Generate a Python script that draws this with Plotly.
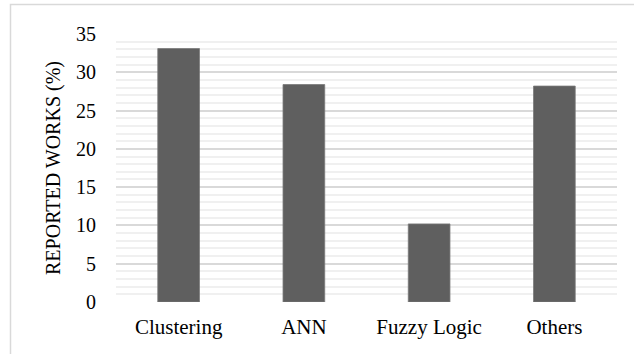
import plotly.graph_objects as go

categories = ["Clustering", "ANN", "Fuzzy Logic", "Others"]
values = [33.1, 28.4, 10.2, 28.2]
y_ticks = [0, 5, 10, 15, 20, 25, 30, 35]

FONT = "Liberation Serif"

fig = go.Figure(go.Bar(
    x=categories, y=values,
    marker=dict(color="#5f5f5f", line=dict(color="#7a7a7a", width=0.8)),
    width=0.333,
))

L, R, T, B = 116, 17, 34, 52
W, H = 634, 354
pw, ph = W - L - R, H - T - B

fig.update_layout(
    width=W, height=H,
    margin=dict(l=L, r=R, t=T, b=B, pad=0),
    paper_bgcolor="white", plot_bgcolor="white",
    font=dict(family=FONT, size=20, color="#000000"),
    showlegend=False,
    xaxis=dict(
        showgrid=False, showline=False, zeroline=False,
        ticks="", tickfont=dict(family=FONT, size=21),
        ticklabelstandoff=10,
    ),
    yaxis=dict(
        range=[0, 35], tickvals=y_ticks,
        showgrid=True, gridcolor="#d9d9d9", gridwidth=1.5,
        minor=dict(dtick=1, showgrid=True, gridcolor="#f0f0f0", gridwidth=1.5),
        zeroline=False, showline=False,
        ticks="outside", ticklen=15, tickcolor="rgba(0,0,0,0)",
        tickfont=dict(family=FONT, size=20),
        title=dict(text="REPORTED WORKS (%)", font=dict(family=FONT, size=20), standoff=10),
    ),
    shapes=[dict(
        type="rect", xref="paper", yref="paper",
        x0=(10.5 - L) / pw, x1=(W + 5 - L) / pw,
        y0=(H - B - (H + 5)) / ph, y1=(H - B - 4.5) / ph,
        line=dict(color="#d9d9d9", width=1.5), fillcolor="rgba(0,0,0,0)",
        layer="below",
    )],
)

fig.write_html("out.html", config={"displayModeBar": False},
               post_script="document.body.style.margin='0';")
